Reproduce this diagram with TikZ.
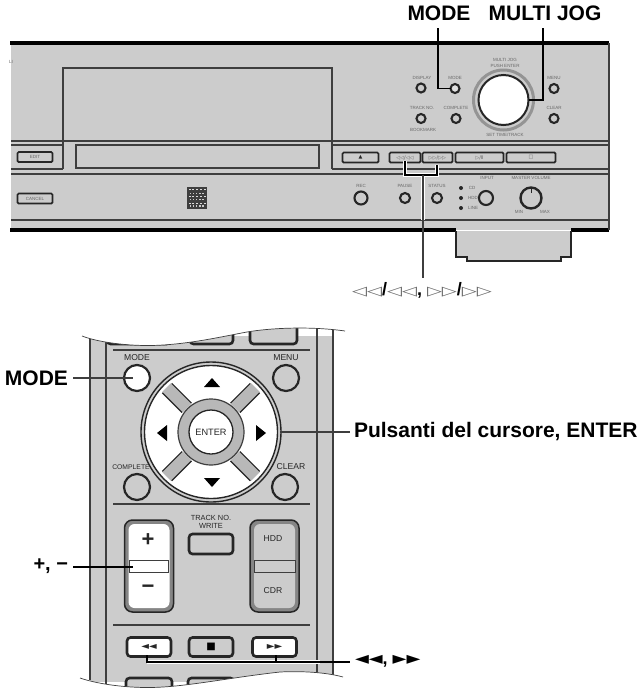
\documentclass[tikz,border=0pt]{standalone}
\usepackage{fontspec}
\setmainfont{Liberation Sans}
\newfontfamily\symf{DejaVu Sans}
\newfontfamily\symw[FakeStretch=1.5]{DejaVu Sans}
\definecolor{panel}{HTML}{CCCCCC}
\definecolor{ink}{HTML}{262626}
\definecolor{midg}{HTML}{3E3E3E}
\definecolor{faint}{HTML}{666666}
\tikzset{
  x=1pt,y=-1pt,
  every node/.style={inner sep=0pt,outer sep=0pt},
  bigl/.style={font=\fontsize{21}{21}\selectfont\bfseries,text=black},
  tiny/.style={font=\fontsize{4.5}{4.8}\selectfont,text=faint,align=center},
  rem/.style={font=\fontsize{8.6}{8.6}\selectfont,text=ink,align=center},
  edge/.style={draw=midg,line width=1.4pt},
  heavy/.style={draw=black,line width=3.6pt},
  leader/.style={draw=black,line width=1.6pt},
  dbtn/.style={circle,draw=ink,line width=2.1pt,fill=panel},
  keyb/.style={draw=ink,line width=1.7pt,fill=panel,rounded corners=1.2pt,font=\fontsize{4.5}{4.8}\selectfont,text=faint},
  rbtn/.style={circle,draw=ink,line width=2.2pt,minimum size=26pt},
  sqb/.style={draw=ink,line width=2.6pt,rounded corners=3.5pt},
  wave/.style={draw=midg,line width=.7pt},
}
\begin{document}
\begin{tikzpicture}
\useasboundingbox (0,0) rectangle (643,689);
\fill[white] (0,0) rectangle (643,689);
% ---- device ----
\fill[panel] (11,43) rectangle (609,230);
\draw[heavy] (10,43) -- (609,43);
\draw[heavy] (10,230) -- (456,230) (571,230) -- (609,230);
\draw[edge] (609,43) -- (609,230);
\draw[edge] (11,141) -- (609,141);
\draw[edge] (11,145) -- (63,145) (332,145) -- (609,145);
\draw[edge] (11,169) -- (63,169) (332,169) -- (609,169);
\draw[edge] (11,174) -- (609,174);
\draw[edge] (11,220) -- (609,220);
\draw[edge] (63,169) -- (63,68) -- (332,68) -- (332,169);
\draw[edge,fill=panel,line width=1.6pt] (76,145) rectangle (319,168);
\node[tiny,anchor=center] at (11,62) {LI};
% tray
\draw[fill=panel,draw=ink,line width=1.9pt] (456,231) -- (456,257) -- (467,257) -- (467,261) -- (561,261) -- (561,257) -- (571,257) -- (571,231);
% left keys
\node[keyb,minimum width=35pt,minimum height=10pt] (kEdit) at (35,157) {EDIT};
\node[keyb,minimum width=35pt,minimum height=10pt] (kCancel) at (35,198.5) {CANCEL};
% CD logo
\fill[midg] (187,187) rectangle (207,209);
\foreach \i in {0,...,4}{\foreach \j in {0,...,2}{
  \fill[panel!70!white] (188.5+\i*3.8,188.5+\j*7) rectangle (190.5+\i*3.8,190+\j*7);
  \fill[panel] (189.5+\i*3.2,192.5+\j*6.4) rectangle (191+\i*3.2,193.7+\j*6.4);
}}
% transport row
\node[keyb,minimum width=36pt,minimum height=10pt,font=\symf\fontsize{5}{5}\selectfont,text=ink] (kEject) at (360.5,157.5) {▲};
\node[keyb,minimum width=31pt,minimum height=10pt,font=\symf\fontsize{5}{5}\selectfont] (kPrev) at (405,157.5) {◁◁/◁◁};
\node[keyb,minimum width=30pt,minimum height=10pt,font=\symf\fontsize{5}{5}\selectfont] (kNext) at (437.5,157.5) {▷▷/▷▷};
\node[keyb,minimum width=48pt,minimum height=10pt,font=\symf\fontsize{5}{5}\selectfont] (kPlay) at (479.5,157.5) {▷/Ⅱ};
\node[keyb,minimum width=49pt,minimum height=10pt,font=\symf\fontsize{5}{5}\selectfont] (kStop) at (531,157.5) {□};
% top buttons
\node[dbtn,minimum size=9pt] (bDisp) at (421,88) {};
\node[dbtn,minimum size=9pt,fill=panel!60!white] (bMode) at (455,88.5) {};
\node[dbtn,minimum size=9pt] (bMenu) at (554,88.5) {};
\node[dbtn,minimum size=9pt] (bTrack) at (421,118.5) {};
\node[dbtn,minimum size=9pt] (bComp) at (456,118.5) {};
\node[dbtn,minimum size=9pt] (bClear) at (554,118.5) {};
\node[tiny] at (422,78) {DISPLAY};
\node[tiny] at (455,78) {MODE};
\node[tiny] at (554,78) {MENU};
\node[tiny] at (422,108) {TRACK NO.};
\node[tiny] at (456,108) {COMPLETE};
\node[tiny] at (554,108) {CLEAR};
\node[tiny] at (423,129.5) {BOOKMARK};
\node[tiny] at (505,60) {MULTI JOG};
\node[tiny] at (505,65.5) {PUSH ENTER};
\node[tiny] at (505,134.5) {SET TIME/TRACK};
% jog
\node[circle,draw=faint!70!white,line width=3pt,minimum size=60pt,fill=panel] (jogRing) at (503.5,100) {};
\node[circle,draw=ink,line width=2pt,minimum size=50pt,fill=white] (jog) at (503.5,100) {};
% lower row
\node[dbtn,minimum size=13pt] (bRec) at (361,198) {};
\node[dbtn,minimum size=10pt] (bPause) at (405,198) {};
\node[dbtn,minimum size=10pt] (bStat) at (437,198) {};
\node[dbtn,minimum size=14pt] (bInput) at (486,198) {};
\node[circle,fill=ink,minimum size=4pt] (ledA) at (461,188) {};
\node[circle,fill=ink,minimum size=4pt] (ledB) at (461,198) {};
\node[circle,fill=ink,minimum size=4pt] (ledC) at (461,208) {};
\node[circle,draw=ink,line width=2.4pt,minimum size=21pt,fill=panel] (vol) at (531,198) {};
\draw[ink,line width=1pt] (531,188) -- (531,193);
\node[tiny] at (361,186) {REC};
\node[tiny] at (405,186) {PAUSE};
\node[tiny] at (437,186) {STATUS};
\node[tiny] at (487,177.5) {INPUT};
\node[tiny] at (531,177.5) {MASTER VOLUME};
\node[tiny] at (472,188) {CD};
\node[tiny] at (473,198) {HDD};
\node[tiny] at (473,208) {LINE};
\node[tiny] at (519,212) {MIN};
\node[tiny] at (545,212) {MAX};
% device labels and leaders
\node[bigl] (lMode) at (439,13.5) {MODE};
\node[bigl] (lJog) at (545,13.5) {MULTI JOG};
\coordinate (mTop) at (438,28);
\coordinate (jTop) at (543,28);
\draw[leader] (mTop) |- (bMode.west);
\draw[leader,line width=1.7pt] (jTop) |- (jog.east);
\coordinate (brL) at (405,161);
\coordinate (brM) at (423,175);
\coordinate (brR) at (437,165);
\coordinate (stemEnd) at (423,278);
\draw[white,line width=3.6pt] (brL) |- (brR |- brM) -- (brR);
\draw[white,line width=3.4pt] (brM) -- (423,220);
\draw[black,line width=1.2pt] (brL) |- (brR |- brM) -- (brR);
\draw[black,line width=1.6pt] (brL) -- (brL |- brM);
\draw[midg,line width=1.3pt] (brM) -- (stemEnd);
\node[anchor=center,font=\fontsize{19}{19}\selectfont\bfseries] (lSkip) at (422,290) {{\symw\fontsize{13}{13}\selectfont\color{faint}◁◁}{\fontsize{18}{18}\selectfont/}{\symw\fontsize{13}{13}\selectfont\color{faint}◁◁}{\fontsize{18}{18}\selectfont, }{\symw\fontsize{13}{13}\selectfont\color{faint}▷▷}{\fontsize{18}{18}\selectfont/}{\symw\fontsize{13}{13}\selectfont\color{faint}▷▷}};
% ---- remote ----
\fill[panel] (90,336) rectangle (333,682);
\draw[midg,line width=2pt] (90,336) -- (90,680);
\draw[midg,line width=1.2pt] (106,340) -- (106,685);
\draw[midg,line width=1.2pt] (317,326) -- (317,675);
\draw[midg,line width=2pt] (333,326) -- (333,675);
\draw[midg,line width=1.1pt] (113,350) -- (310,350);
\draw[midg,line width=1.1pt] (113,504) -- (310,504);
\draw[midg,line width=1.1pt] (113,625) -- (310,625);
% clipped top keys
\draw[sqb,fill=panel] (107,330) -- (107,344) -- (170,344) -- (170,330);
\draw[sqb,fill=panel] (190,328) -- (190,344) -- (233,344) -- (233,328);
\draw[sqb,fill=panel] (250,322) -- (250,344) -- (297,344) -- (297,322);
% bottom clipped keys
\draw[sqb,fill=panel] (126,690) -- (126,678) -- (172,678) -- (172,690);
\draw[sqb,fill=panel] (188,690) -- (188,678) -- (234,678) -- (234,690);
% top and bottom waves
\fill[white] (70,300) -- (70,333) -- (82,336) .. controls (100,343) and (135,347) .. (163,345) .. controls (195,343) and (225,336) .. (247,332) .. controls (270,328) and (310,326) .. (345,331) -- (345,300) -- cycle;
\draw[wave] (82,336) .. controls (100,343) and (135,347) .. (163,345) .. controls (195,343) and (225,336) .. (247,332) .. controls (270,328) and (310,326) .. (345,331);
\fill[white] (70,689) -- (70,676) -- (80,678) .. controls (100,685) and (135,689) .. (163,687) .. controls (195,685) and (235,677) .. (280,672) .. controls (300,671) and (325,672) .. (343,677) -- (345,689) -- cycle;
\draw[wave] (80,678) .. controls (100,685) and (135,689) .. (163,687) .. controls (195,685) and (235,677) .. (280,672) .. controls (300,671) and (325,672) .. (343,677);
% round keys
\node[rbtn,fill=white] (rMode) at (137,378) {};
\node[rbtn,fill=panel] (rMenu) at (286,378) {};
\node[rbtn,fill=panel] (rComp) at (137,487) {};
\node[rbtn,fill=panel] (rClear) at (285,487) {};
\node[rem] at (137,358) {MODE};
\node[rem] at (286,358) {MENU};
\node[rem,font=\fontsize{6.8}{7}\selectfont] at (131,467) {COMPLETE};
\node[rem] at (291,467) {CLEAR};
% d-pad
\node[circle,draw=ink,line width=1.4pt,minimum size=140pt,fill=panel] (padOut) at (211,432) {};
\node[circle,draw=ink,line width=1.4pt,minimum size=133pt,fill=white] (pad) at (211,432) {};
\foreach \a/\b in {-44/-44,44/-44,-44/44,44/44}{
  \draw[ink,line width=14.5pt] (211+\a,432+\b) -- (211+0.55*\a,432+0.55*\b);
  \draw[panel!90!black,line width=12pt] (211+1.01*\a,432+1.01*\b) -- (211+0.55*\a,432+0.55*\b);
}
\node[circle,draw=midg,line width=1.2pt,minimum size=66pt,fill=panel!90!black] (enterRing) at (211,432) {};
\node[circle,draw=ink,line width=1.3pt,minimum size=44pt,fill=white,font=\fontsize{9.2}{9.2}\selectfont,text=ink] (enter) at (211,432) {ENTER};
\fill[black] (212,378) -- (220,387) -- (204,387) -- cycle;
\fill[black] (212,487) -- (220,478) -- (204,478) -- cycle;
\fill[black] (157,433) -- (167,425) -- (167,441) -- cycle;
\fill[black] (266,433) -- (256,425) -- (256,441) -- cycle;
% rockers
\node[draw=ink,line width=1.5pt,fill=panel!65!black,rounded corners=8pt,minimum width=49pt,minimum height=92pt] (rockA) at (149,566) {};
\node[draw=none,fill=white,rounded corners=6pt,minimum width=41pt,minimum height=84pt] (rockAi) at (149,566) {};
\draw[midg,line width=1pt,fill=white] (129,560) rectangle (168,572);
\node[font=\fontsize{22}{22}\selectfont\bfseries,text=ink] at (148,540.5) {+};
\node[font=\fontsize{22}{22}\selectfont\bfseries,text=ink] at (148,589) {−};
\node[draw=ink,line width=1.5pt,fill=panel!65!black,rounded corners=8pt,minimum width=49pt,minimum height=92pt] (rockB) at (274.5,566) {};
\node[draw=none,fill=panel,rounded corners=6pt,minimum width=41pt,minimum height=84pt] (rockBi) at (274.5,566) {};
\draw[midg,line width=1pt,fill=panel] (254,560) rectangle (295,572);
\node[rem] at (273,539) {HDD};
\node[rem] at (273,591) {CDR};
% square keys
\node[rem,font=\fontsize{7.4}{8.6}\selectfont] at (211,522) {TRACK NO.\\WRITE};
\node[sqb,fill=panel,minimum width=44pt,minimum height=20pt] (rTrack) at (211,544) {};
\node[sqb,fill=white,minimum width=44pt,minimum height=19pt,font=\symf\fontsize{10}{10}\selectfont,text=ink] (rRew) at (149,647) {◄◄};
\node[sqb,fill=panel,minimum width=44pt,minimum height=19pt,font=\symf\fontsize{10}{10}\selectfont,text=black] (rStop) at (211,647) {■};
\node[sqb,fill=white,minimum width=44pt,minimum height=19pt,font=\symf\fontsize{10}{10}\selectfont,text=ink] (rFf) at (274.5,647) {►►};
% remote labels and leaders
\node[bigl,anchor=east] (lrMode) at (68,378) {MODE};
\coordinate (mEnd) at (133,378);
\draw[midg,line width=1.2pt] (lrMode.east) ++(5,0) -- (mEnd);
\node[bigl,anchor=west] (lPuls) at (354,432) {Pulsanti del cursore, ENTER};
\coordinate (pStart) at (280,432);
\coordinate (pEnd2) at (350,432);
\draw[midg,line width=1.2pt] (pStart) -- (pEnd2);
\node[anchor=east,font=\fontsize{20}{20}\selectfont\bfseries] (lPlus) at (68,566) {+, −};
\coordinate (pEnd) at (133,567);
\draw[leader,line width=1.8pt] (73,567) -- (pEnd);
\node[anchor=west] (lFf) at (355,661.5) {\symf\fontsize{18}{18}\selectfont\bfseries ◄◄{\fontspec{Liberation Sans}, }►►};
\coordinate (rewDrop) at (147,655);
\coordinate (ffDrop) at (276,655);
\coordinate (fEnd) at (350,662);
\draw[white,line width=3.4pt] (rewDrop |- fEnd) -- (320,662);
\draw[black,line width=1.3pt] (rewDrop) |- (fEnd);
\draw[black,line width=1.3pt] (ffDrop) -- (ffDrop |- fEnd);
\end{tikzpicture}
\end{document}
